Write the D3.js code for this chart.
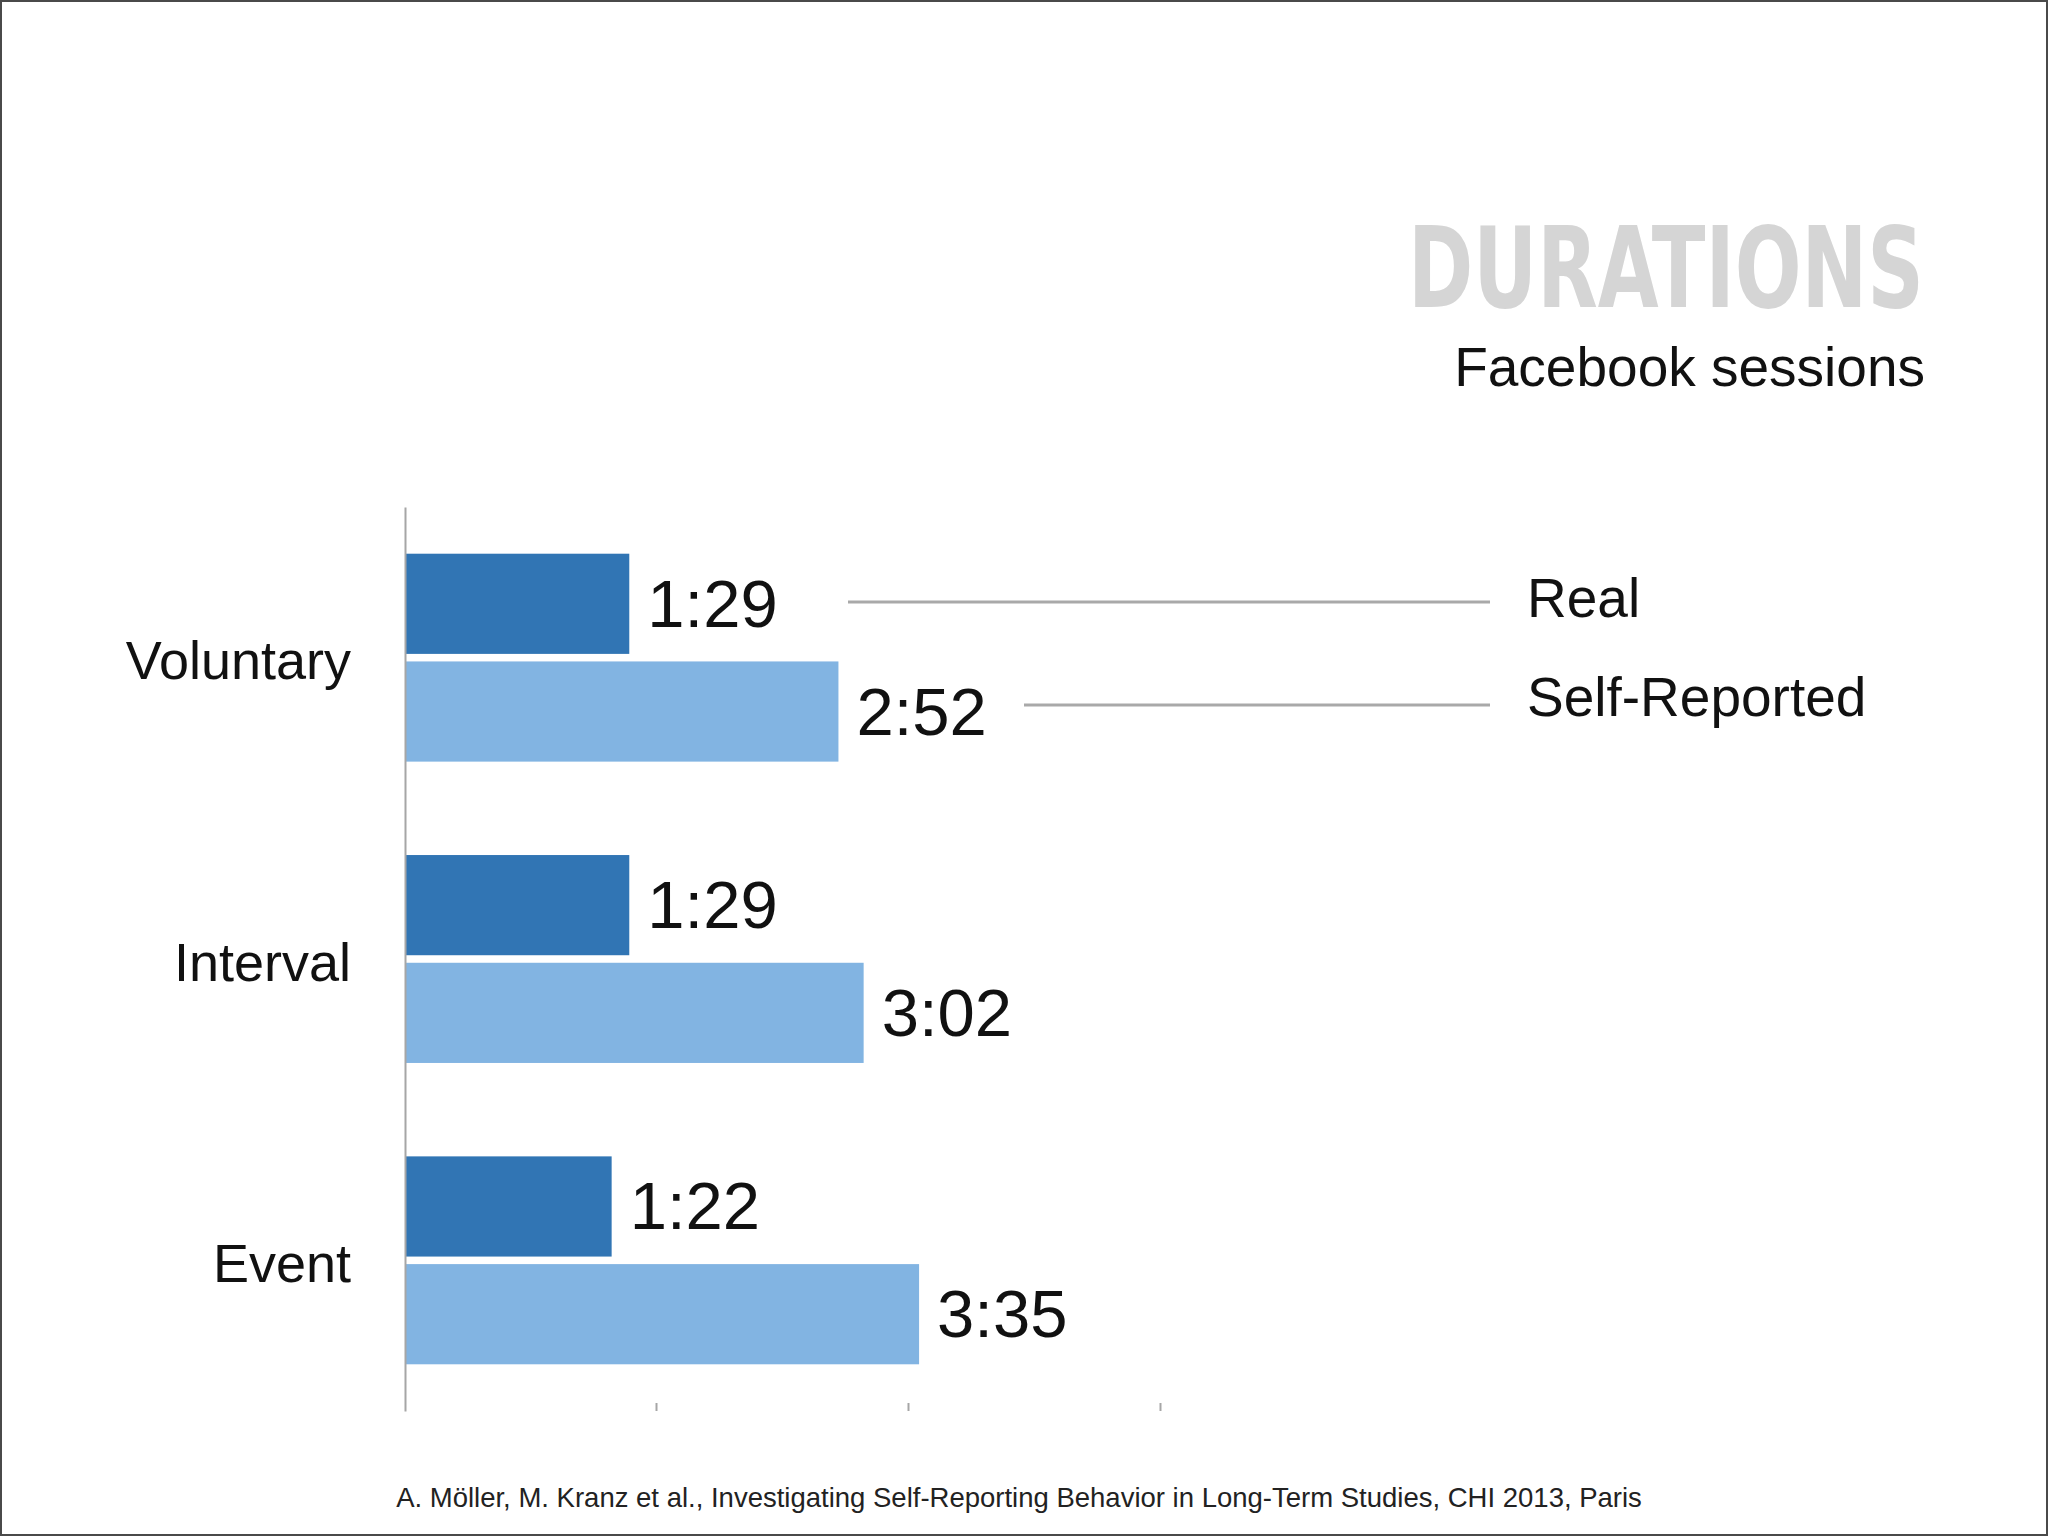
<!DOCTYPE html>
<html>
<head>
<meta charset="utf-8">
<script src="https://cdn.jsdelivr.net/npm/d3@7"></script>
<style>
  html, body { margin: 0; padding: 0; background: #fff; }
  svg { display: block; }
  text { font-family: "Liberation Sans", Arial, Helvetica, sans-serif; }
</style>
</head>
<body>
<svg id="chart"></svg>
<script>
// data (durations in seconds)
const categories = ["Voluntary", "Interval", "Event"];
const series = ["Real", "Self-Reported"];
const realValues = [89, 89, 82];
const selfValues = [172, 182, 204];
const realLabels = ["1:29", "1:29", "1:22"];
const selfLabels = ["2:52", "3:02", "3:35"];
const tickValues = [100, 200, 300];

const W = 2048, H = 1536;
const colors = { "Real": "#3175b4", "Self-Reported": "#82b4e2" };

const svg = d3.select("#chart").attr("width", W).attr("height", H);

// slide frame
svg.append("rect")
    .attr("x", 1).attr("y", 1)
    .attr("width", W - 2).attr("height", H - 2)
    .attr("fill", "#fff")
    .attr("stroke", "#4a4a4a")
    .attr("stroke-width", 2);

// title block: condensed bold, squeezed to the slide's width
const title = svg.append("text")
    .attr("x", 0).attr("y", 0)
    .style("font-family", "'Liberation Sans Narrow', 'DejaVu Sans Condensed', 'Liberation Sans', sans-serif")
    .style("font-stretch", "condensed")
    .style("font-weight", "bold")
    .style("font-size", "113px")
    .attr("fill", "#d5d5d5")
    .text("DURATIONS");
const titleW = title.node().getComputedTextLength();
title.attr("transform", `translate(1408,307) scale(${516 / titleW},1)`);

svg.append("text")
    .attr("x", 1925).attr("y", 386)
    .attr("text-anchor", "end")
    .style("font-size", "55px")
    .attr("fill", "#111")
    .text("Facebook sessions");

// scales
const x = d3.scaleLinear().domain([0, 300]).range([405, 1161]);

const y = d3.scaleBand()
    .domain(categories)
    .range([507, 1411])
    .paddingInner(0.31)
    .paddingOuter(0.155);

const ySub = d3.scaleBand()
    .domain(series)
    .range([0, y.bandwidth()])
    .paddingInner(0.07);

const rows = categories.map((c, i) => ([
    { cat: c, s: "Real", v: realValues[i], label: realLabels[i] },
    { cat: c, s: "Self-Reported", v: selfValues[i], label: selfLabels[i] }
])).flat();

// bars
svg.append("g").selectAll("rect")
    .data(rows)
    .enter().append("rect")
    .attr("x", x(0))
    .attr("y", d => y(d.cat) + ySub(d.s))
    .attr("width", d => x(d.v) - x(0))
    .attr("height", ySub.bandwidth())
    .attr("fill", d => colors[d.s]);

// value labels
svg.append("g").selectAll("text")
    .data(rows)
    .enter().append("text")
    .attr("x", d => x(d.v) + 18)
    .attr("y", d => y(d.cat) + ySub(d.s) + ySub.bandwidth() / 2 + 23)
    .style("font-size", "67px")
    .attr("fill", "#111")
    .text(d => d.label);

// category axis
const yAxis = svg.append("g")
    .attr("transform", `translate(${x(0)},0)`)
    .call(d3.axisLeft(y).tickSize(0).tickSizeOuter(0).tickPadding(54));
yAxis.select(".domain").attr("stroke", "#a6a6a6").attr("stroke-width", 2);
yAxis.selectAll(".tick text")
    .attr("dy", "0.4em")
    .style("font-size", "54px")
    .style("font-family", "'Liberation Sans', Arial, sans-serif")
    .attr("fill", "#111");

// value axis: just the little tick marks
const xAxis = svg.append("g")
    .attr("transform", "translate(-1,1411)")
    .call(d3.axisBottom(x).tickValues(tickValues).tickSize(-8).tickFormat(""));
xAxis.select(".domain").remove();
xAxis.selectAll(".tick line").attr("stroke", "#a6a6a6").attr("stroke-width", 2);

// legend leader lines
const legendRows = [
    { s: series[0], x1: 848, ly: 602, ty: 617 },
    { s: series[1], x1: 1024, ly: 705, ty: 716 }
];
const legend = svg.append("g");
legend.selectAll("line")
    .data(legendRows)
    .enter().append("line")
    .attr("x1", d => d.x1).attr("x2", 1490)
    .attr("y1", d => d.ly).attr("y2", d => d.ly)
    .attr("stroke", "#a9a9a9")
    .attr("stroke-width", 3);
legend.selectAll("text")
    .data(legendRows)
    .enter().append("text")
    .attr("x", 1527)
    .attr("y", d => d.ty)
    .style("font-size", "55px")
    .attr("fill", "#111")
    .text(d => d.s);

// source line
svg.append("text")
    .attr("x", 1019).attr("y", 1507)
    .attr("text-anchor", "middle")
    .style("font-size", "27.5px")
    .attr("fill", "#222")
    .text("A. Möller, M. Kranz et al., Investigating Self-Reporting Behavior in Long-Term Studies, CHI 2013, Paris");
</script>
</body>
</html>
